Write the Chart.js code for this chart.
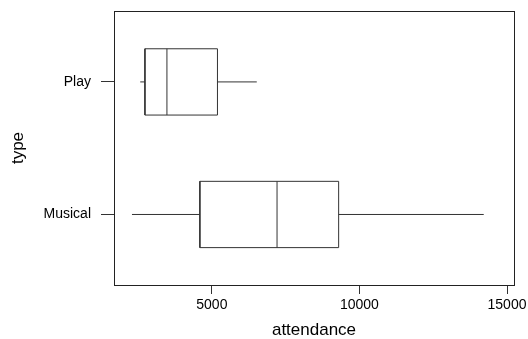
<!DOCTYPE html>
<html>
<head>
<meta charset="utf-8">
<script src="https://cdn.jsdelivr.net/npm/chart.js@4"></script>
<style>
  html, body { margin: 0; padding: 0; background: #fff; }
  #wrap { width: 528px; height: 339px; }
</style>
</head>
<body>
<div id="wrap"><canvas id="boxChart"></canvas></div>
<script>
// box plot data, one entry per type (bottom to top)
const categories = ['Musical', 'Play'];
const mins    = [2294, 2574];
const q1s     = [4594, 2733];
const medians = [7209, 3478];
const q3s     = [9296, 5190];
const maxs    = [14212, 6522];
const xTicks  = [5000, 10000, 15000];

const half = 0.25; // half box height, in category units
const ink = '#333';

function line(points) {
  return {
    data: points,
    showLine: true,
    borderColor: ink,
    borderWidth: 1,
    pointRadius: 0,
    fill: false
  };
}

const datasets = [];
categories.forEach((c, i) => {
  // box outline
  datasets.push(line([
    {x: q1s[i], y: i - half}, {x: q3s[i], y: i - half},
    {x: q3s[i], y: i + half}, {x: q1s[i], y: i + half},
    {x: q1s[i], y: i - half}
  ]));
  // median
  datasets.push(line([{x: medians[i], y: i - half}, {x: medians[i], y: i + half}]));
  // whiskers
  datasets.push(line([{x: mins[i], y: i}, {x: q1s[i], y: i}]));
  datasets.push(line([{x: q3s[i], y: i}, {x: maxs[i], y: i}]));
});

const frame = {
  id: 'frame',
  afterDraw(chart) {
    const a = chart.chartArea, ctx = chart.ctx;
    ctx.save();
    ctx.strokeStyle = '#222';
    ctx.lineWidth = 1;
    ctx.strokeRect(Math.round(a.left) + 0.5, Math.round(a.top) + 0.5,
      Math.round(a.right - a.left), Math.round(a.bottom - a.top));
    ctx.restore();
  }
};

const font = "'Liberation Sans', Arial, sans-serif";

new Chart(document.getElementById('boxChart'), {
  type: 'scatter',
  data: { datasets },
  plugins: [frame],
  options: {
    responsive: true,
    maintainAspectRatio: false,
    animation: false,
    events: [],
    layout: { padding: { top: 11, right: 14, left: 0, bottom: 0 } },
    plugins: { legend: { display: false }, tooltip: { enabled: false } },
    scales: {
      x: {
        type: 'linear',
        min: 1685,
        max: 15237,
        afterBuildTicks: (s) => { s.ticks = xTicks.map(v => ({ value: v })); },
        afterFit: (s) => { s.height = 54; s.paddingLeft = 0; s.paddingRight = 0; },
        grid: { drawOnChartArea: false, drawTicks: true, tickLength: 9, tickColor: ink },
        border: { display: false },
        ticks: {
          color: '#000', font: { family: font, size: 14 }, padding: 3, maxRotation: 0,
          callback: (v) => String(v)
        },
        title: {
          display: true, text: 'attendance', color: '#000',
          font: { family: font, size: 17, lineHeight: 1 },
          padding: { top: 0, bottom: 0 }
        }
      },
      y: {
        type: 'linear',
        min: -0.532,
        max: 1.535,
        afterBuildTicks: (s) => { s.ticks = categories.map((c, i) => ({ value: i })); },
        afterFit: (s) => { s.width = 114; s.paddingTop = 0; s.paddingBottom = 0; },
        grid: { drawOnChartArea: false, drawTicks: true, tickLength: 13, tickColor: ink },
        border: { display: false },
        ticks: {
          color: '#000', font: { family: font, size: 14 }, padding: 10,
          callback: (v) => categories[v] ?? ''
        },
        title: {
          display: true, text: 'type', color: '#000',
          font: { family: font, size: 17, lineHeight: 1.2 },
          padding: { top: 8, bottom: 0 }
        }
      }
    }
  }
});
</script>
</body>
</html>
